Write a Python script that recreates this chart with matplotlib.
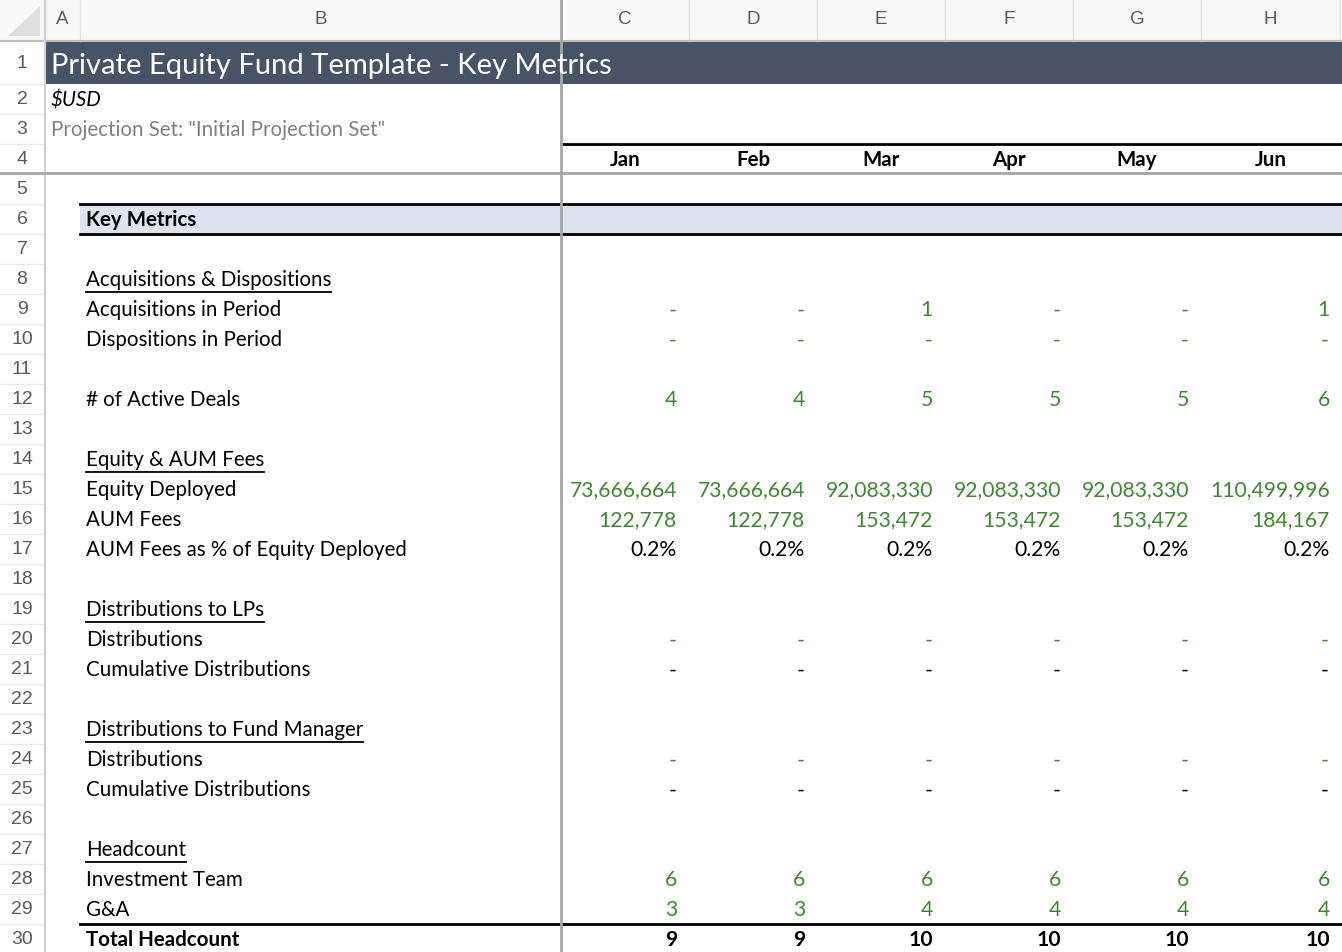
import matplotlib
matplotlib.use("Agg")
import matplotlib.pyplot as plt
from matplotlib.patches import Rectangle, Polygon

# ---------------- data ----------------
col_letters = ["A", "B", "C", "D", "E", "F", "G", "H"]
months = ["Jan", "Feb", "Mar", "Apr", "May", "Jun"]
title = "Private Equity Fund Template - Key Metrics"
currency = "$USD"
projection = 'Projection Set: "Initial Projection Set"'

acquisitions = [0, 0, 1, 0, 0, 1]
dispositions = [0, 0, 0, 0, 0, 0]
active_deals = [4, 4, 5, 5, 5, 6]
equity_deployed = [73666664, 73666664, 92083330, 92083330, 92083330, 110499996]
aum_fees = [122778, 122778, 153472, 153472, 153472, 184167]
aum_pct = [0.2, 0.2, 0.2, 0.2, 0.2, 0.2]
lp_dist = [0, 0, 0, 0, 0, 0]
lp_cum = [0, 0, 0, 0, 0, 0]
fm_dist = [0, 0, 0, 0, 0, 0]
fm_cum = [0, 0, 0, 0, 0, 0]
invest_team = [6, 6, 6, 6, 6, 6]
ga_team = [3, 3, 4, 4, 4, 4]
total_headcount = [a + b for a, b in zip(invest_team, ga_team)]

# (row, label, style, values, value kind, colour)
rows = [
    (6, "Key Metrics", "band", None, None, None),
    (8, "Acquisitions & Dispositions", "under", None, None, None),
    (9, "Acquisitions in Period", "", acquisitions, "int", "g"),
    (10, "Dispositions in Period", "", dispositions, "int", "g"),
    (12, "# of Active Deals", "", active_deals, "int", "g"),
    (14, "Equity & AUM Fees", "under", None, None, None),
    (15, "Equity Deployed", "", equity_deployed, "int", "g"),
    (16, "AUM Fees", "", aum_fees, "int", "g"),
    (17, "AUM Fees as % of Equity Deployed", "", aum_pct, "pct", "k"),
    (19, "Distributions to LPs", "under", None, None, None),
    (20, "Distributions", "", lp_dist, "int", "g"),
    (21, "Cumulative Distributions", "", lp_cum, "int", "k"),
    (23, "Distributions to Fund Manager", "under", None, None, None),
    (24, "Distributions", "", fm_dist, "int", "g"),
    (25, "Cumulative Distributions", "", fm_cum, "int", "k"),
    (27, "Headcount", "under", None, None, None),
    (28, "Investment Team", "", invest_team, "int", "g"),
    (29, "G&A", "", ga_team, "int", "g"),
    (30, "Total Headcount", "bold", total_headcount, "int", "kb"),
]

# ---------------- layout ----------------
W, H = 1342, 952
fig = plt.figure(figsize=(W / 100, H / 100), dpi=100)
ax = fig.add_axes([0, 0, 1, 1])
ax.set_xlim(0, W)
ax.set_ylim(H, 0)
ax.axis("off")

FONT = "Lato"
HDR_FONT = "Liberation Sans"
GREEN = "#3b8a2b"
TITLE_BG = "#475468"
BAND = "#dce2ee"
FRZ = "#a6a6a6"

col_edges = [45, 80, 561, 689, 817, 945, 1073, 1201, 1342]
HDR_H = 41
ROW1_TOP, ROW1_BOT = 42, 84
ROW_H = 30
DY = 1.5


def row_top(r):
    if r == 1:
        return ROW1_TOP
    return ROW1_BOT + (r - 2) * ROW_H


def row_mid(r):
    return row_top(r) + (ROW1_BOT - ROW1_TOP if r == 1 else ROW_H) / 2


FS = 14.8
NFS = 15.2

# column header strip
ax.add_patch(Rectangle((0, 0), W, HDR_H, facecolor="#f7f7f7", edgecolor="none"))
ax.add_patch(Polygon([[40, 6], [40, 36], [8, 36]], closed=True, facecolor="#dedede", edgecolor="none"))
for i, letter in enumerate(col_letters):
    x0, x1 = col_edges[i], col_edges[i + 1]
    if letter == "H":
        x1 = 1340
    ax.text((x0 + x1) / 2, 19, letter, ha="center", va="center", fontsize=13.5,
            family=HDR_FONT, color="#5a5a5a")
    ax.plot([x1, x1], [0, HDR_H], color="#e4e4e4", lw=1)
ax.plot([0, W], [HDR_H, HDR_H], color="#bdbdbd", lw=1.5)

# row number strip
for r in range(1, 31):
    ax.text(22, row_mid(r) + 1, str(r), ha="center", va="center", fontsize=14,
            family=HDR_FONT, color="#5a5a5a")
    yb = ROW1_BOT if r == 1 else row_top(r) + ROW_H
    ax.plot([0, 45], [yb, yb], color="#e8e8e8", lw=1)
ax.plot([45, 45], [0, H], color="#cfcfcf", lw=1.5)

# title band
ax.add_patch(Rectangle((45, ROW1_TOP), W - 45, ROW1_BOT - ROW1_TOP, facecolor=TITLE_BG, edgecolor="none"))
ax.text(51, row_mid(1) + 3, title, ha="left", va="center", fontsize=21, family=FONT, color="white")
ax.text(51, row_mid(2) + DY, currency, ha="left", va="center", fontsize=FS, family=FONT,
        style="italic", color="black")
ax.text(51, row_mid(3) + DY, projection, ha="left", va="center", fontsize=FS, family=FONT, color="#808080")

# month header
ax.plot([561, W], [row_top(4), row_top(4)], color="black", lw=2)
for i, m in enumerate(months):
    x0, x1 = col_edges[i + 2], col_edges[i + 3]
    if i == len(months) - 1:
        x1 = 1340
    ax.text((x0 + x1) / 2, row_mid(4) + DY, m, ha="center", va="center", fontsize=FS,
            family=FONT, weight="bold", color="black")


def fmt(v, kind):
    if kind == "pct":
        return f"{v:.1f}%"
    if v == 0:
        return "-"
    return f"{v:,.0f}"


fig.canvas.draw()
renderer = fig.canvas.get_renderer()
inv = ax.transData.inverted()

for (r, label, style, vals, kind, colr) in rows:
    y = row_mid(r) + DY
    if style == "band":
        ax.add_patch(Rectangle((80, row_top(r)), W - 80, ROW_H, facecolor=BAND, edgecolor="none"))
        ax.plot([80, W], [row_top(r), row_top(r)], color="black", lw=2)
        ax.plot([80, W], [row_top(r) + ROW_H, row_top(r) + ROW_H], color="black", lw=2)
        ax.text(86, y, label, ha="left", va="center", fontsize=FS, family=FONT,
                weight="bold", color="black")
        continue
    if style == "bold":
        ax.plot([80, W], [row_top(r), row_top(r)], color="black", lw=2)
    t = ax.text(86, y, label, ha="left", va="center", fontsize=FS, family=FONT,
                weight="bold" if style == "bold" else "normal", color="black")
    if style == "under":
        bb = t.get_window_extent(renderer=renderer)
        (xa, _), (xb, _) = inv.transform([(bb.x0, bb.y0), (bb.x1, bb.y0)])
        ax.plot([xa, xb], [y + 11, y + 11], color="black", lw=1.3)
    if vals is None:
        continue
    for i, v in enumerate(vals):
        x1 = col_edges[i + 3]
        if i == len(vals) - 1:
            x1 = 1342
        s = fmt(v, kind)
        c = GREEN if colr == "g" else "black"
        xr = x1 - 12 if s != "-" else x1 - 13
        ax.text(xr, y, s, ha="right", va="center", fontsize=NFS, family=FONT,
                weight="bold" if colr == "kb" else "normal", color=c)

# frozen pane lines
ax.plot([561, 561], [0, H], color=FRZ, lw=2)
ax.plot([0, W], [173, 173], color=FRZ, lw=2)

fig.savefig("out.png", dpi=100)
